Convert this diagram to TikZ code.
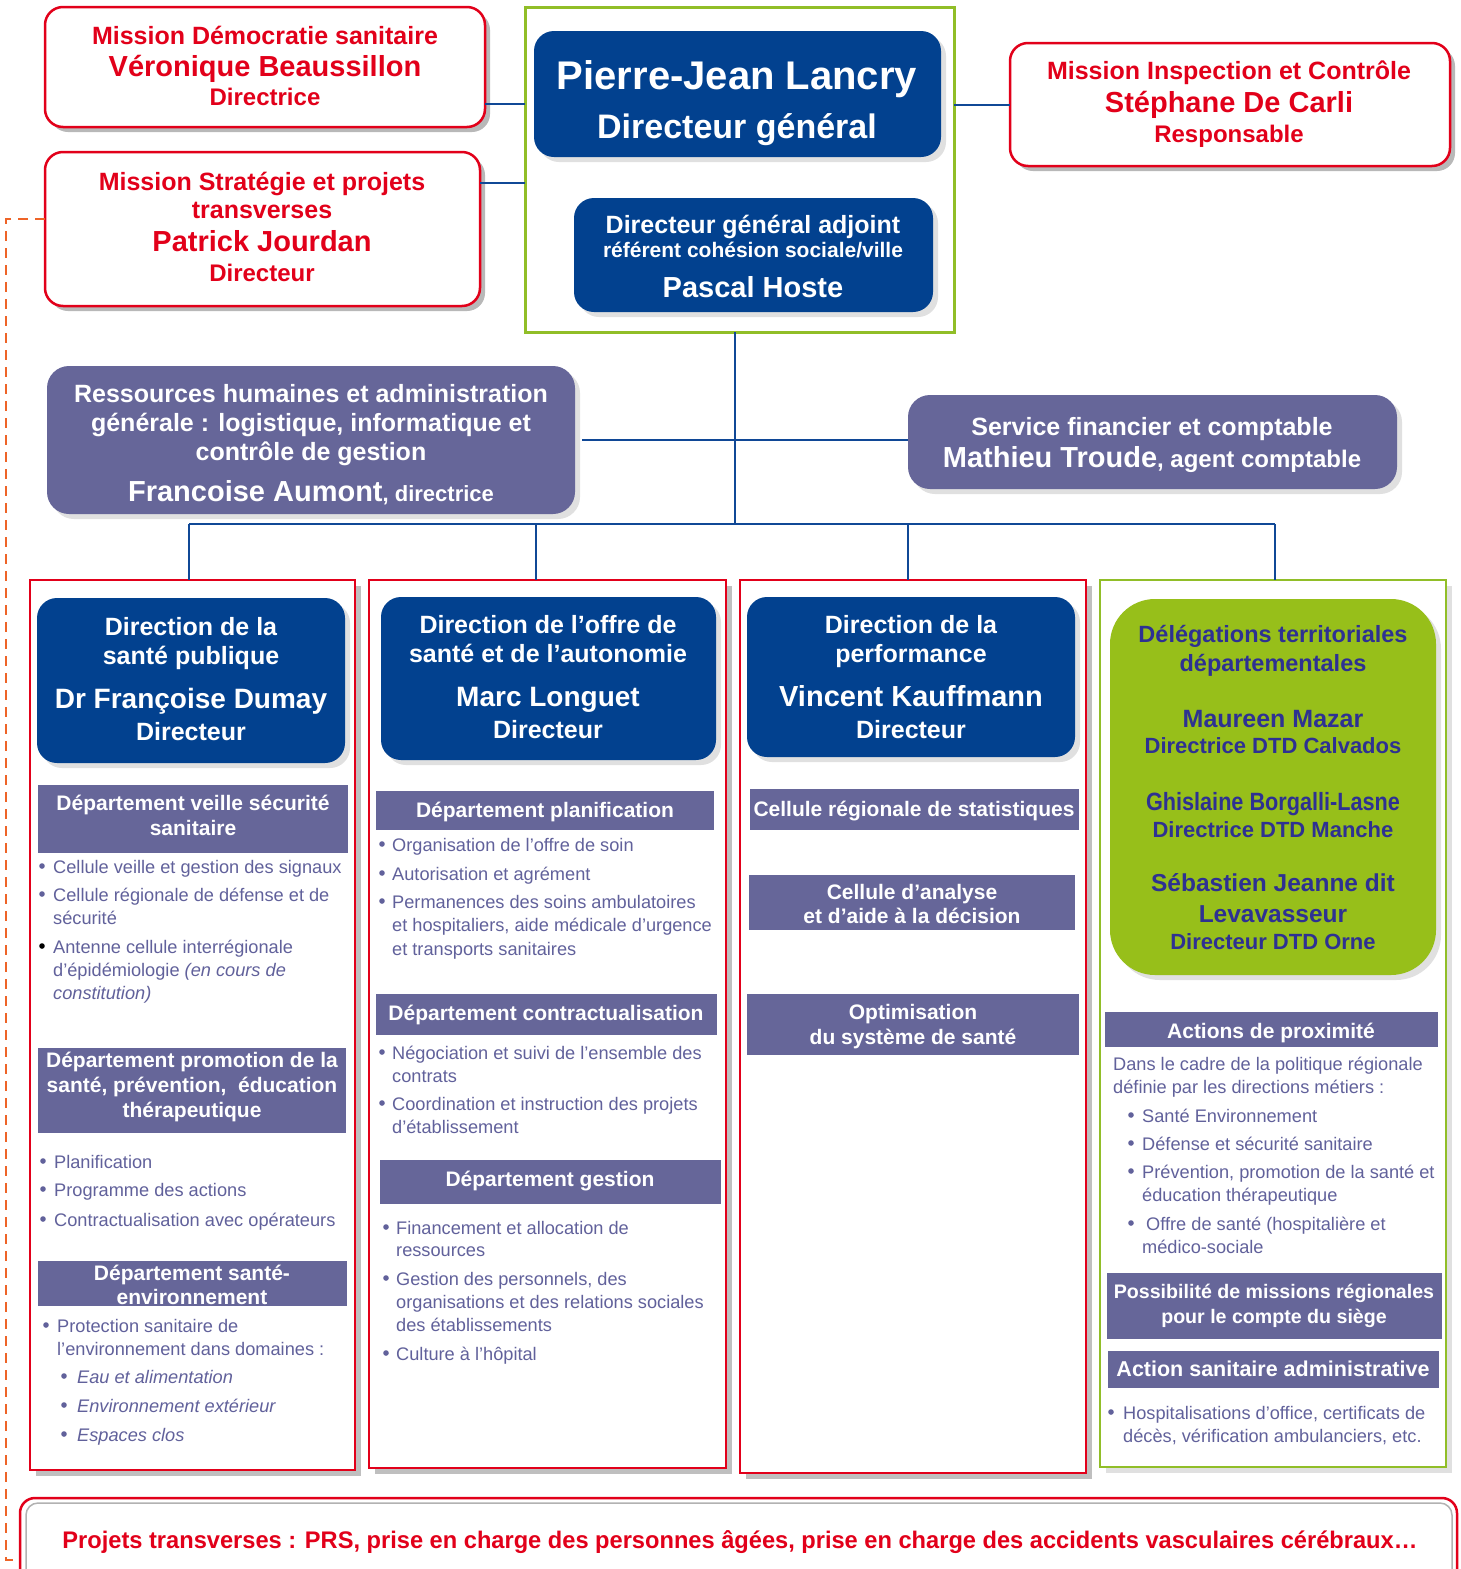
\documentclass[tikz,border=0pt]{standalone}
\usepackage{fontspec}
\setmainfont{Liberation Sans}
\usepackage{graphicx}
\usetikzlibrary{shadows}
\definecolor{redc}{RGB}{226,0,26}
\definecolor{blueb}{RGB}{2,65,143}
\definecolor{purp}{RGB}{102,102,153}
\definecolor{txtp}{RGB}{97,97,155}
\definecolor{greenl}{RGB}{145,190,40}
\definecolor{greenf}{RGB}{151,191,26}
\definecolor{navy}{RGB}{46,49,146}
\definecolor{connc}{RGB}{16,72,150}
\definecolor{orng}{RGB}{238,100,40}
\newcommand\mkbox[6]{\node[#6, minimum width={(#4)-(#2)}, minimum height={(#5)-(#3)}, inner sep=0pt, outer sep=0pt] (#1) at ({((#2)+(#4))/2},{-((#3)+(#5))/2}) {};}
\newcommand\tx[7]{\node[anchor=#2, inner sep=0pt, #6] (#1) at (#3,{-((#4)+0.36*(#5))}) {\fontsize{#5}{#5}\selectfont #7};}
\newcommand\bul[3][txtp]{\fill[#1] (#2,{-(#3)}) circle (2.8);}
\begin{document}
\begin{tikzpicture}[x=1pt,y=1pt,
  redbox/.style={draw=redc, line width=2.5pt, fill=white, rounded corners=18pt, drop shadow={shadow xshift=5pt, shadow yshift=-5pt, fill=black!28, opacity=1}},
  bluebox/.style={fill=blueb, rounded corners=20pt, drop shadow={shadow xshift=5pt, shadow yshift=-5pt, fill=black!12, opacity=1}},
  purbox/.style={fill=purp, rounded corners=22pt, drop shadow={shadow xshift=5pt, shadow yshift=-5pt, fill=black!12, opacity=1}},
  colred/.style={draw=redc, line width=2.5pt, fill=white, drop shadow={shadow xshift=6pt, shadow yshift=-6pt, fill=black!25, opacity=1}},
  colgreen/.style={draw=greenl, line width=2.5pt, fill=white, drop shadow={shadow xshift=6pt, shadow yshift=-6pt, fill=black!12, opacity=1}},
  gframe/.style={draw=greenl, line width=3pt},
  hdr/.style={fill=purp},
  dtdbox/.style={fill=greenf, rounded corners=45pt, drop shadow={shadow xshift=5pt, shadow yshift=-5pt, fill=black!12, opacity=1}},
  bottombox/.style={draw=redc, line width=2.5pt, fill=white, rounded corners=15pt},
  conn/.style={draw=connc, line width=2pt},
  orangedash/.style={draw=orng, line width=2pt, dash pattern=on 10pt off 7pt},
  wt/.style={text=white, font=\bfseries},
  rt/.style={text=redc, font=\bfseries},
  bt/.style={text=txtp},
  nt/.style={text=navy, font=\bfseries}]
\useasboundingbox (0,0) rectangle (1461,-1569);
\clip (0,0) rectangle (1461,-1569);
\fill[white] (0,0) rectangle (1461,-1569);

% ---------- boxes ----------
\mkbox{DS}{45}{7}{485}{127}{redbox}
\mkbox{SP}{45}{152}{480}{306}{redbox}
\mkbox{GF}{525}{7}{954}{332}{gframe}
\mkbox{DG}{534}{31}{941}{157}{bluebox}
\mkbox{DGA}{574}{198}{933}{312}{bluebox}
\mkbox{INS}{1010}{43}{1450}{166}{redbox}
\mkbox{RH}{47}{366}{575}{514}{purbox}
\mkbox{SF}{908}{395}{1397}{489}{purbox}
\mkbox{C1}{30}{580}{355}{1470}{colred}
\mkbox{C2}{369}{580}{726}{1468}{colred}
\mkbox{C3}{740}{580}{1086}{1473}{colred}
\mkbox{C4}{1100}{580}{1446}{1467}{colgreen}
\mkbox{BT}{20}{1498}{1457}{1620}{bottombox}
\draw[black!30, line width=1.5pt, rounded corners=12pt] (26,-1620) -- (26,-1503) -- (1452,-1503) -- (1452,-1620);

% column inner boxes
\mkbox{B1}{37}{598}{345}{763}{bluebox}
\mkbox{H11}{38}{785}{348}{853}{hdr}
\mkbox{H12}{38}{1048}{346}{1133}{hdr}
\mkbox{H13}{38}{1261}{347}{1306}{hdr}
\mkbox{B2}{381}{597}{716}{760}{bluebox}
\mkbox{H21}{376}{791}{714}{830}{hdr}
\mkbox{H22}{376}{994}{717}{1035}{hdr}
\mkbox{H23}{380}{1160}{721}{1204}{hdr}
\mkbox{B3}{747}{597}{1075}{757}{bluebox}
\mkbox{H31}{750}{789}{1079}{830}{hdr}
\mkbox{H32}{749}{875}{1075}{930}{hdr}
\mkbox{H33}{747}{994}{1079}{1055}{hdr}
\mkbox{DTD}{1110}{599}{1436}{975}{dtdbox}
\mkbox{H41}{1105}{1012}{1438}{1047}{hdr}
\mkbox{H42}{1107}{1273}{1442}{1339}{hdr}
\mkbox{H43}{1108}{1351}{1439}{1388}{hdr}

% ---------- connectors ----------
\draw[conn] (DS.east |- 0,-104) -- (GF.west |- 0,-104);
\draw[conn] (SP.east |- 0,-183) -- (GF.west |- 0,-183);
\draw[conn] (GF.east |- INS.west) -- (INS.west);
\coordinate (bL) at (189,-524);
\coordinate (bM) at (735,-524);
\coordinate (b2) at (536,-524);
\coordinate (b3) at (908,-524);
\coordinate (bR) at (1275,-524);
\draw[conn] (GF.south -| bM) -- (bM);
\draw[conn] ([xshift=7pt]RH.east) -- (SF.west |- RH.east);
\draw[conn] (bL) -- (bR);
\draw[conn] (bL) -- (C1.north -| bL);
\draw[conn] (b2) -- (C2.north -| b2);
\draw[conn] (b3) -- (C3.north -| b3);
\draw[conn] (bR) -- (C4.north -| bR);
\draw[orangedash] (SP.west |- 0,-219) -- (6,-219) -- (6,-1560) -- (BT.west |- 0,-1560);

% ---------- texts: top ----------
\tx{t1}{base}{265}{35}{25}{rt}{Mission Démocratie sanitaire}
\tx{t2}{base}{265}{66}{29}{rt}{Véronique Beaussillon}
\tx{t3}{base}{265}{97}{24}{rt}{Directrice}
\tx{t4}{base}{262}{181}{25}{rt}{Mission Stratégie et projets}
\tx{t5}{base}{262}{209}{25}{rt}{transverses}
\tx{t6}{base}{262}{241}{29}{rt}{Patrick Jourdan}
\tx{t7}{base}{262}{273}{24}{rt}{Directeur}
\tx{t8}{base}{737}{75}{40}{wt}{Pierre-Jean Lancry}
\tx{t9}{base}{737}{126}{34}{wt}{Directeur général}
\tx{t10}{base}{753}{224}{25}{wt}{Directeur général adjoint}
\tx{t11}{base}{753}{250}{21}{wt}{référent cohésion sociale/ville}
\tx{t12}{base}{753}{287}{29}{wt}{Pascal Hoste}
\tx{t13}{base}{1229}{70}{25}{rt}{Mission Inspection et Contrôle}
\tx{t14}{base}{1229}{102}{29}{rt}{Stéphane De Carli}
\tx{t15}{base}{1229}{134}{24}{rt}{Responsable}
\tx{t16}{base}{311}{393}{25}{wt}{Ressources humaines et administration}
\tx{t17}{base}{311}{422}{25}{wt}{générale : logistique, informatique et}
\tx{t18}{base}{311}{451}{25}{wt}{contrôle de gestion}
\tx{t19}{base}{311}{491}{29}{wt}{Francoise Aumont{\fontsize{22}{22}\selectfont, directrice}}
\tx{t20}{base}{1152}{426}{25}{wt}{Service financier et comptable}
\tx{t21}{base}{1152}{457}{29}{wt}{Mathieu Troude{\fontsize{24}{24}\selectfont, agent comptable}}

% ---------- column 1 ----------
\tx{t22}{base}{191}{626}{25}{wt}{Direction de la}
\tx{t23}{base}{191}{655}{25}{wt}{santé publique}
\tx{t24}{base}{191}{698}{28}{wt}{Dr Françoise Dumay}
\tx{t25}{base}{191}{731}{25}{wt}{Directeur}
\tx{t26}{base}{193}{803}{21}{wt}{Département veille sécurité}
\tx{t27}{base}{193}{828}{21}{wt}{sanitaire}
\tx{t28}{base west}{53}{867}{18.2}{bt}{Cellule veille et gestion des signaux}
\tx{t29}{base west}{53}{895}{18.2}{bt}{Cellule régionale de défense et de}
\tx{t30}{base west}{53}{918}{18.2}{bt}{sécurité}
\tx{t31}{base west}{53}{947}{18.2}{bt}{Antenne cellule interrégionale}
\tx{t32}{base west}{53}{970}{18.2}{bt}{d’épidémiologie \textit{(en cours de}}
\tx{t33}{base west}{53}{993}{18.2}{bt}{\textit{constitution)}}
\bul{42}{866}\bul{42}{894}\bul[black]{42}{946}
\tx{t34}{base}{192}{1060}{21}{wt}{Département promotion de la}
\tx{t35}{base}{192}{1085}{21}{wt}{santé, prévention,\ \ éducation}
\tx{t36}{base}{192}{1110}{21}{wt}{thérapeutique}
\tx{t37}{base west}{54}{1162}{18.2}{bt}{Planification}
\tx{t38}{base west}{54}{1190}{18.2}{bt}{Programme des actions}
\tx{t39}{base west}{54}{1220}{18.2}{bt}{Contractualisation avec opérateurs}
\bul{43}{1161}\bul{43}{1189}\bul{43}{1219}
\tx{t40}{base}{192}{1273}{21}{wt}{Département santé-}
\tx{t41}{base}{192}{1297}{21}{wt}{environnement}
\tx{t42}{base west}{57}{1326}{18.2}{bt}{Protection sanitaire de}
\tx{t43}{base west}{57}{1349}{18.2}{bt}{l’environnement dans domaines :}
\bul{46}{1325}
\tx{t44}{base west}{77}{1377}{18.2}{bt}{\textit{Eau et alimentation}}
\tx{t45}{base west}{77}{1406}{18.2}{bt}{\textit{Environnement extérieur}}
\tx{t46}{base west}{77}{1435}{18.2}{bt}{\textit{Espaces clos}}
\bul{64}{1376}\bul{64}{1405}\bul{64}{1434}

% ---------- column 2 ----------
\tx{t47}{base}{548}{624}{25}{wt}{Direction de l’offre de}
\tx{t48}{base}{548}{653}{25}{wt}{santé et de l’autonomie}
\tx{t49}{base}{548}{696}{28}{wt}{Marc Longuet}
\tx{t50}{base}{548}{729}{25}{wt}{Directeur}
\tx{t51}{base}{545}{810}{21}{wt}{Département planification}
\tx{t52}{base west}{392}{845}{18.2}{bt}{Organisation de l’offre de soin}
\tx{t53}{base west}{392}{874}{18.2}{bt}{Autorisation et agrément}
\tx{t54}{base west}{392}{902}{18.2}{bt}{Permanences des soins ambulatoires}
\tx{t55}{base west}{392}{925}{18.2}{bt}{et hospitaliers, aide médicale d’urgence}
\tx{t56}{base west}{392}{949}{18.2}{bt}{et transports sanitaires}
\bul{382}{844}\bul{382}{873}\bul{382}{901}
\tx{t57}{base}{546}{1013}{21}{wt}{Département contractualisation}
\tx{t58}{base west}{392}{1053}{18.2}{bt}{Négociation et suivi de l’ensemble des}
\tx{t59}{base west}{392}{1076}{18.2}{bt}{contrats}
\tx{t60}{base west}{392}{1104}{18.2}{bt}{Coordination et instruction des projets}
\tx{t61}{base west}{392}{1127}{18.2}{bt}{d’établissement}
\bul{382}{1052}\bul{382}{1103}
\tx{t62}{base}{550}{1179}{21}{wt}{Département gestion}
\tx{t63}{base west}{396}{1228}{18.2}{bt}{Financement et allocation de}
\tx{t64}{base west}{396}{1250}{18.2}{bt}{ressources}
\tx{t65}{base west}{396}{1279}{18.2}{bt}{Gestion des personnels, des}
\tx{t66}{base west}{396}{1302}{18.2}{bt}{organisations et des relations sociales}
\tx{t67}{base west}{396}{1325}{18.2}{bt}{des établissements}
\tx{t68}{base west}{396}{1354}{18.2}{bt}{Culture à l’hôpital}
\bul{386}{1227}\bul{386}{1278}\bul{386}{1353}

% ---------- column 3 ----------
\tx{t69}{base}{911}{624}{25}{wt}{Direction de la}
\tx{t70}{base}{911}{653}{25}{wt}{performance}
\tx{t71}{base}{911}{696}{29}{wt}{Vincent Kauffmann}
\tx{t72}{base}{911}{729}{25}{wt}{Directeur}
\tx{t73}{base}{914}{809}{21}{wt}{Cellule régionale de statistiques}
\tx{t74}{base}{912}{892}{21}{wt}{Cellule d’analyse}
\tx{t75}{base}{912}{916}{21}{wt}{et d’aide à la décision}
\tx{t76}{base}{913}{1012}{21}{wt}{Optimisation}
\tx{t77}{base}{913}{1037}{21}{wt}{du système de santé}

% ---------- column 4 ----------
\tx{t78}{base}{1273}{634}{23.5}{nt}{Délégations territoriales}
\tx{t79}{base}{1273}{663}{23.5}{nt}{départementales}
\tx{t80}{base}{1273}{718}{25}{nt}{Maureen Mazar}
\tx{t81}{base}{1273}{746}{22}{nt}{Directrice DTD Calvados}
\tx{t82}{base}{1273}{801}{25}{nt}{\resizebox{254pt}{\height}{Ghislaine Borgalli-Lasne}}
\tx{t83}{base}{1273}{830}{22}{nt}{Directrice DTD Manche}
\tx{t84}{base}{1273}{883}{24.5}{nt}{Sébastien Jeanne dit}
\tx{t85}{base}{1273}{914}{24.5}{nt}{Levavasseur}
\tx{t86}{base}{1273}{942}{22}{nt}{Directeur DTD Orne}
\tx{t87}{base}{1271}{1031}{21}{wt}{Actions de proximité}
\tx{t88}{base west}{1113}{1064}{18.2}{bt}{Dans le cadre de la politique régionale}
\tx{t89}{base west}{1113}{1087}{18.2}{bt}{définie par les directions métiers :}
\tx{t90}{base west}{1142}{1116}{18.2}{bt}{Santé Environnement}
\tx{t91}{base west}{1142}{1144}{18.2}{bt}{Défense et sécurité sanitaire}
\tx{t92}{base west}{1142}{1172}{18.2}{bt}{Prévention, promotion de la santé et}
\tx{t93}{base west}{1142}{1195}{18.2}{bt}{éducation thérapeutique}
\tx{t94}{base west}{1146}{1224}{18.2}{bt}{Offre de santé (hospitalière et}
\tx{t95}{base west}{1142}{1247}{18.2}{bt}{médico-sociale}
\bul{1131}{1115}\bul{1131}{1143}\bul{1131}{1171}\bul{1131}{1223}
\tx{t96}{base}{1274}{1291}{19.6}{wt}{Possibilité de missions régionales}
\tx{t97}{base}{1274}{1316}{19.6}{wt}{pour le compte du siège}
\tx{t98}{base}{1273}{1369}{21.5}{wt}{Action sanitaire administrative}
\tx{t99}{base west}{1123}{1413}{18.2}{bt}{Hospitalisations d’office, certificats de}
\tx{t100}{base west}{1123}{1436}{18.2}{bt}{décès, vérification ambulanciers, etc.}
\bul{1111}{1412}

% ---------- bottom ----------
\tx{t101}{base}{740}{1540}{24}{rt}{\resizebox{1355pt}{\height}{Projets transverses : PRS, prise en charge des personnes âgées, prise en charge des accidents vasculaires cérébraux…}}
\end{tikzpicture}
\end{document}
